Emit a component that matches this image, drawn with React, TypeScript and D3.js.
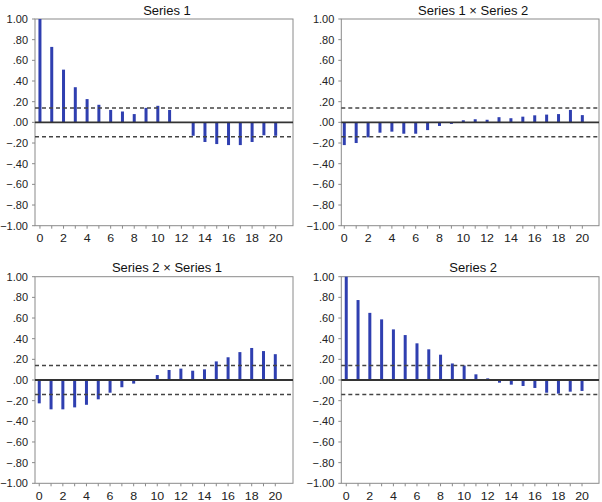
import React from "react";
import * as d3 from "d3";

const lags = d3.range(0, 21);

const series1 = [1.0, 0.73, 0.51, 0.34, 0.225, 0.17, 0.12, 0.105, 0.08, 0.14, 0.16, 0.12, 0.0, -0.13, -0.19, -0.21, -0.22, -0.22, -0.19, -0.125, -0.13];
const series1x2 = [-0.22, -0.2, -0.145, -0.1, -0.09, -0.11, -0.11, -0.075, -0.035, -0.015, 0.02, 0.03, 0.025, 0.05, 0.04, 0.055, 0.068, 0.075, 0.08, 0.12, 0.07];
const series2x1 = [-0.226, -0.284, -0.284, -0.265, -0.24, -0.187, -0.123, -0.07, -0.035, 0.0, 0.048, 0.097, 0.11, 0.09, 0.103, 0.18, 0.22, 0.27, 0.31, 0.28, 0.25];
const series2 = [1.0, 0.774, 0.65, 0.587, 0.49, 0.435, 0.355, 0.297, 0.245, 0.16, 0.14, 0.055, 0.016, -0.026, -0.045, -0.058, -0.077, -0.123, -0.132, -0.113, -0.106];

const titles = ["Series 1", "Series 1 \u00d7 Series 2", "Series 2 \u00d7 Series 1", "Series 2"];
const confBand = 0.14;
const yTicks = [1.0, 0.8, 0.6, 0.4, 0.2, 0.0, -0.2, -0.4, -0.6, -0.8, -1.0];
const xTickLabels = [0, 2, 4, 6, 8, 10, 12, 14, 16, 18, 20];

const panelData = [series1, series1x2, series2x1, series2];

// layout: plot box and x-domain
const layout = [
  { left: 35, right: 293, top: 19, bottom: 225.7, x0: -0.42, x1: 21.47 },
  { left: 341.3, right: 599, top: 19, bottom: 225.7, x0: -0.25, x1: 21.4 },
  { left: 35, right: 293, top: 276.7, bottom: 483.3, x0: -0.36, x1: 21.5 },
  { left: 341.3, right: 599, top: 276.7, bottom: 483.3, x0: -0.42, x1: 21.44 },
];

const fmt = (v: number) => {
  const s = Math.abs(v).toFixed(2).replace(/^0/, "");
  return v < -1e-9 ? "\u2212" + s : s;
};

const FONT = "'Liberation Sans', Arial, Helvetica, sans-serif";
const AXIS = "#8a8a8a";
const BAR = "#2f3fb0";

function Panel({ idx }: { idx: number }) {
  const L = layout[idx];
  const vals = panelData[idx];
  const x = d3.scaleLinear().domain([L.x0, L.x1]).range([L.left, L.right]);
  const y = d3.scaleLinear().domain([-1, 1]).range([L.bottom, L.top]);
  const cx = (L.left + L.right) / 2 + 3;
  return (
    <g>
      <text x={cx} y={L.top - 4.5} textAnchor="middle" fontSize={13} fontFamily={FONT} fill="#111">
        {titles[idx]}
      </text>
      <rect x={L.left} y={L.top} width={L.right - L.left} height={L.bottom - L.top} fill="none" stroke={AXIS} strokeWidth={1} />
      {yTicks.map((t) => (
        <g key={t}>
          <line x1={L.left - 3} x2={L.left} y1={y(t)} y2={y(t)} stroke={AXIS} />
          <text
            x={L.left - 7}
            y={y(t)}
            dy="0.36em"
            textAnchor="end"
            fontSize={11}
            fontFamily={FONT}
            fill="#222"
          >
            {fmt(t)}
          </text>
        </g>
      ))}
      {lags.map((l) => (
        <line key={l} x1={x(l)} x2={x(l)} y1={L.bottom} y2={L.bottom + 3} stroke={AXIS} />
      ))}
      {xTickLabels.map((t) => (
        <text
          key={t}
          transform={`translate(${x(t)},${L.bottom + 16.5}) scale(1.08,1)`}
          textAnchor="middle"
          fontSize={11.5}
          fontFamily={FONT}
          fill="#222"
        >
          {t}
        </text>
      ))}
      {lags.map((l, i) => {
        const v = vals[i];
        if (Math.abs(v) < 1e-6) return null;
        return (
          <rect
            key={l}
            x={x(l) - 1.5}
            width={3}
            y={Math.min(y(v), y(0))}
            height={Math.abs(y(v) - y(0))}
            fill={BAR}
          />
        );
      })}
      <line x1={L.left} x2={L.right} y1={y(0)} y2={y(0)} stroke="#333" strokeWidth={1.8} />
      {[confBand, -confBand].map((c) => (
        <line
          key={c}
          x1={L.left}
          x2={L.right}
          y1={y(c)}
          y2={y(c)}
          stroke="#444"
          strokeWidth={1.5}
          strokeDasharray="4,3"
        />
      ))}
    </g>
  );
}

export default function App() {
  return (
    <svg
      width={602}
      height={502}
      style={{ position: "absolute", left: 0, top: 0, background: "#fff" }}
    >
      <rect width={602} height={502} fill="#fff" />
      {[0, 1, 2, 3].map((i) => (
        <Panel key={i} idx={i} />
      ))}
    </svg>
  );
}
